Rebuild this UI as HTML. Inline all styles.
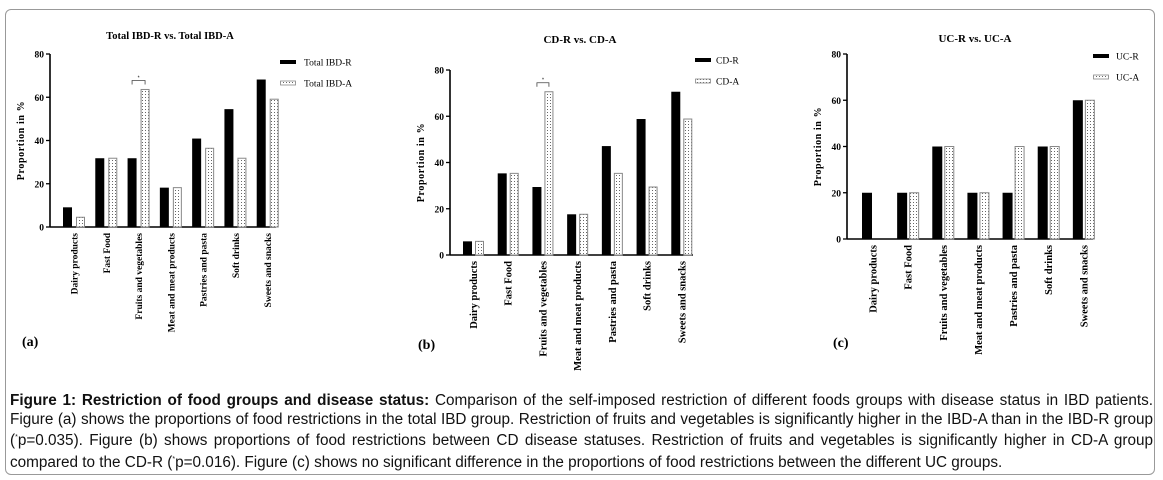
<!DOCTYPE html>
<html><head><meta charset="utf-8">
<style>
html,body{margin:0;padding:0;background:#fff;}
body{width:1163px;height:480px;position:relative;overflow:hidden;font-family:"Liberation Sans",sans-serif;}
#frame{position:absolute;left:5px;top:9px;width:1150px;height:466px;border:1px solid #999;border-radius:6px;box-sizing:border-box;}
#caption{position:absolute;left:10px;top:392px;width:1143px;font-size:15.3px;line-height:18.7px;color:#111;}
#caption div{text-align:justify;text-align-last:justify;white-space:nowrap;}
#caption div.last{text-align-last:left;}
svg{position:absolute;left:0;top:0;}
</style></head><body>
<div id="frame"></div>
<svg id="chart" width="1163" height="390">
<defs>
<pattern id="dots" width="3" height="3" patternUnits="userSpaceOnUse"><rect width="3" height="3" fill="#fff"/><rect x="1" y="1" width="1" height="1" fill="#666"/></pattern>
</defs>
</svg>
<div id="caption">
<div style="white-space:normal"><b>Figure 1: Restriction of food groups and disease status:</b> Comparison of the self-imposed restriction of different foods groups with disease status in IBD patients.</div>
<div style="white-space:normal">Figure (a) shows the proportions of food restrictions in the total IBD group. Restriction of fruits and vegetables is significantly higher in the IBD-A than in the IBD-R group</div>
<div style="white-space:normal">(<sup style="font-size:7px">*</sup>p=0.035). Figure (b) shows proportions of food restrictions between CD disease statuses. Restriction of fruits and vegetables is significantly higher in CD-A group</div>
<div class="last">compared to the CD-R (<sup style="font-size:7px">*</sup>p=0.016). Figure (c) shows no significant difference in the proportions of food restrictions between the different UC groups.</div>
</div>
<script>
const categories = ["Dairy products","Fast Food","Fruits and vegetables","Meat and meat products","Pastries and pasta","Soft drinks","Sweets and snacks"];
const yTicks = [0,20,40,60,80];
const ibdR = [9.1,31.8,31.8,18.2,40.9,54.5,68.2];
const ibdA = [4.5,31.8,63.6,18.2,36.4,31.8,59.1];
const cdR = [5.9,35.3,29.4,17.6,47.1,58.8,70.6];
const cdA = [5.9,35.3,70.6,17.6,35.3,29.4,58.8];
const ucR = [20,20,40,20,20,40,60];
const ucA = [0,20,40,20,40,40,60];
const titles = ["Total IBD-R vs. Total IBD-A","CD-R vs. CD-A","UC-R vs. UC-A"];
const legendR = ["Total IBD-R","CD-R","UC-R"];
const legendA = ["Total IBD-A","CD-A","UC-A"];
const panelLetters = ["(a)","(b)","(c)"];

const svg = document.getElementById('chart');
const NS = 'http://www.w3.org/2000/svg';
function mk(tag, attrs, parent){const e=document.createElementNS(NS,tag);for(const k in attrs)e.setAttribute(k,attrs[k]);(parent||svg).appendChild(e);return e;}

const panels = [
 {x0:50,x1:276,y0:227,y80:54,rOff:13,aOff:26,bw:9,title:[170,39],leg:[280,304,62,83],letter:[22,346],sig:2,fs:9.5,ts:10.5},
 {x0:450,x1:693,y0:255,y80:70,rOff:13,aOff:25,bw:9,title:[580,43],leg:[695,716,60,81],letter:[418,349],sig:2,fs:10.5,ts:11},
 {x0:847,x1:1093,y0:239,y80:54,rOff:15,aOff:27,bw:10,title:[975,42],leg:[1093,1116,56,77],letter:[833,347],sig:-1,fs:10.5,ts:11}
];
const seriesR=[ibdR,cdR,ucR], seriesA=[ibdA,cdA,ucA];

panels.forEach((p,pi)=>{
  const g=mk('g',{});
  
  
  const yScale=v=>p.y0-(v/80)*(p.y0-p.y80);
  const gw=(p.x1-p.x0)/categories.length;
  const xStart=i=>p.x0+i*gw;
  const t=mk('text',{x:p.title[0],y:p.title[1],'text-anchor':'middle','font-family':'Liberation Serif,serif','font-weight':'bold','font-size':p.ts},g);
  t.textContent=titles[pi];
  
  
  mk('line',{x1:p.x0,y1:p.y80,x2:p.x0,y2:p.y0,stroke:'#000','stroke-width':1.6},g);
  mk('line',{x1:p.x0,y1:p.y0,x2:p.x1,y2:p.y0,stroke:'#000','stroke-width':1.6},g);
  yTicks.forEach(v=>{
    const y=yScale(v);
    mk('line',{x1:p.x0-4,y1:y,x2:p.x0,y2:y,stroke:'#000','stroke-width':1.3},g);
    const tl=mk('text',{x:p.x0-6,y:y+3.5,'text-anchor':'end','font-family':'Liberation Serif,serif','font-weight':'bold','font-size':9.5},g);
    tl.textContent=v;
    
    
  });
  const ym=(p.y0+p.y80)/2;
  const yt=mk('text',{x:p.x0-26,y:ym,'text-anchor':'middle','font-family':'Liberation Serif,serif','font-weight':'bold','font-size':10,transform:`rotate(-90 ${p.x0-26} ${ym})`,'letter-spacing':'0.6'},g);
  yt.textContent='Proportion in %';
  
  
  categories.forEach((c,i)=>{
    const xs=xStart(i);
    const rv=seriesR[pi][i], av=seriesA[pi][i];
    const br=mk('rect',{x:xs+p.rOff,y:yScale(rv),width:p.bw,height:p.y0-yScale(rv),fill:'#000'},g);
    
    
    if(av>0){
      const ba=mk('rect',{x:xs+p.aOff+0.5,y:yScale(av),width:p.bw-1,height:p.y0-yScale(av),fill:'url(#dots)',stroke:'#888','stroke-width':1},g);
      
      
    }
    const cx=xs+(p.rOff+p.aOff+p.bw)/2;
    const ly=p.y0+6;
    const lb=mk('text',{x:cx+3.5,y:ly,'text-anchor':'end','font-family':'Liberation Serif,serif','font-weight':'bold','font-size':p.fs,transform:`rotate(-90 ${cx+3.5} ${ly})`},g);
    lb.textContent=c;
    
    
    if(i===p.sig){
      const x1=xs+p.rOff+p.bw/2, x2=xs+p.aOff+p.bw/2, top=yScale(Math.max(rv,av))-9;
      mk('path',{d:`M${x1} ${top+4}V${top}H${x2}V${top+4}`,fill:'none',stroke:'#444','stroke-width':0.8},g);
      const st=mk('text',{x:(x1+x2)/2,y:top-1,'text-anchor':'middle','font-size':5},g);
      st.textContent='*';
    }
  });
  mk('rect',{x:p.leg[0],y:p.leg[2]-2,width:16,height:4,fill:'#000'},g);
  mk('rect',{x:p.leg[0]+0.5,y:p.leg[3]-2,width:15,height:4,fill:'url(#dots)',stroke:'#888','stroke-width':0.8},g);
  const l1=mk('text',{x:p.leg[1],y:p.leg[2]+3.5,'font-family':'Liberation Serif,serif','font-size':9.5},g);
  l1.textContent=legendR[pi];
  
  
  const l2=mk('text',{x:p.leg[1],y:p.leg[3]+3.5,'font-family':'Liberation Serif,serif','font-size':9.5},g);
  l2.textContent=legendA[pi];
  
  
  const pl=mk('text',{x:p.letter[0],y:p.letter[1],'font-family':'Liberation Serif,serif','font-weight':'bold','font-size':14},g);
  pl.textContent=panelLetters[pi];
  
  
});
</script>
</body></html>
